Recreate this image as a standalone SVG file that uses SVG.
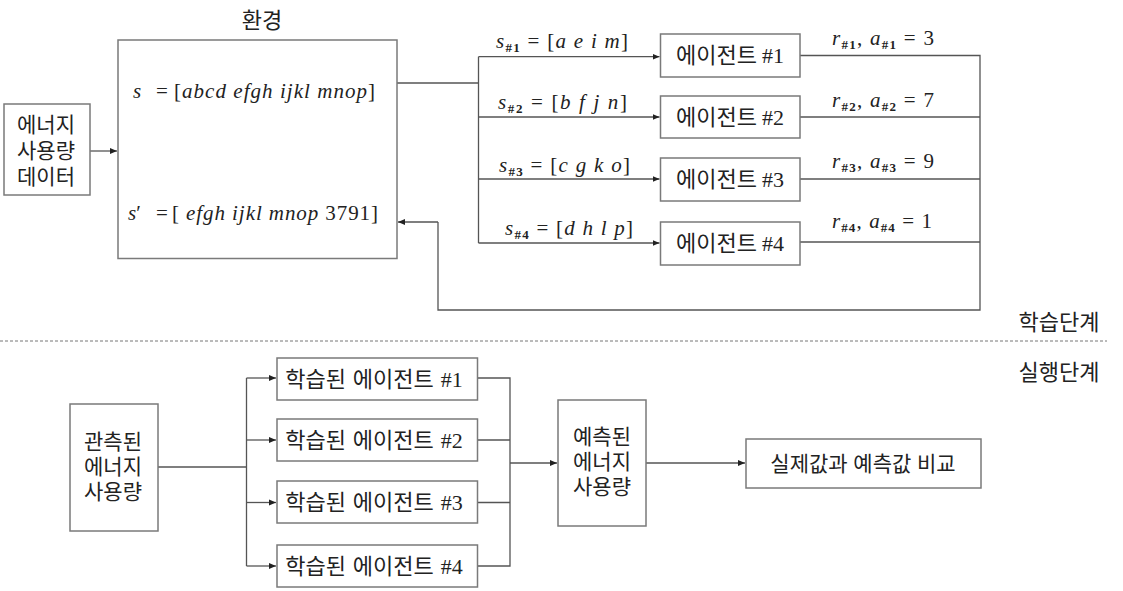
<svg xmlns="http://www.w3.org/2000/svg" width="1123" height="591" viewBox="0 0 1123 591">
<defs>
<marker id="ah" markerUnits="userSpaceOnUse" markerWidth="8" markerHeight="8" refX="7" refY="3.5" orient="auto">
<path d="M0,0.5 L7,3.5 L0,6.5 z" fill="#222"/>
</marker>
<style>
.box{fill:#fff;stroke:#7a7a7a;stroke-width:1.5}
.ln{fill:none;stroke:#555;stroke-width:1.3}
.ar{fill:none;stroke:#555;stroke-width:1.3;marker-end:url(#ah)}
.kr{font-family:"Noto Sans CJK KR","Noto Sans",sans-serif;font-size:22px;fill:#222}
.kr3{font-family:"Noto Sans CJK KR","Noto Sans",sans-serif;font-size:21px;fill:#222;text-anchor:middle}
.c{text-anchor:middle}
.num{font-family:"Liberation Serif",serif}
.m{font-family:"Liberation Serif",serif;font-size:21px;fill:#222}
.i{font-style:italic}
.sub{font-size:13px;font-weight:bold;font-style:normal}
</style>
</defs>
<rect width="1123" height="591" fill="#fff"/>

<g id="connectors">
<path class="ar" d="M90,151 H117"/>
<path class="ln" d="M397,83 H478.5"/>
<path class="ln" d="M478.5,56.7 V243"/>
<path class="ar" d="M478.5,56.7 H659.5"/>
<path class="ar" d="M478.5,117 H659.5"/>
<path class="ar" d="M478.5,179 H659.5"/>
<path class="ar" d="M478.5,243 H659.5"/>
<path class="ln" d="M800,55.5 H980 V310 H438 V222"/>
<path class="ar" d="M438,222 H398"/>
<path class="ln" d="M800,117 H980"/>
<path class="ln" d="M800,179 H980"/>
<path class="ln" d="M800,242 H980"/>
<path class="ln" d="M158,467 H246.5"/>
<path class="ln" d="M246.5,378 V566"/>
<path class="ar" d="M246.5,378 H276"/>
<path class="ar" d="M246.5,440 H276"/>
<path class="ar" d="M246.5,502.5 H276"/>
<path class="ar" d="M246.5,566 H276"/>
<path class="ln" d="M477.5,378 H510 V566 H477.5"/>
<path class="ln" d="M477.5,440 H510"/>
<path class="ln" d="M477.5,502.5 H510"/>
<path class="ar" d="M510,463 H557"/>
<path class="ar" d="M646,463 H745"/>
<path d="M130,152 H384" fill="none" stroke="#333" stroke-width="1.3" stroke-dasharray="4,2"/>
<path d="M0,341 H1107" fill="none" stroke="#777" stroke-width="1" stroke-dasharray="3,2"/>
</g>

<g id="energy-data">
<rect class="box" x="4" y="104" width="86" height="91"/>
<text class="kr3"><tspan x="46" y="132">에너지</tspan><tspan x="46" y="158">사용량</tspan><tspan x="46" y="184">데이터</tspan></text>
</g>

<g id="environment">
<text class="kr c" x="262" y="28">환경</text>
<rect class="box" x="118" y="40" width="279" height="218.5"/>
<text class="m i" x="133" y="98">s</text>
<text class="m" x="156" y="98">=</text>
<text class="m" x="174" y="98" textLength="201" lengthAdjust="spacing">[<tspan class="i">abcd efgh ijkl mnop</tspan>]</text>
<text class="m" x="128" y="220"><tspan class="i">s</tspan>′</text>
<text class="m" x="156" y="220">=</text>
<text class="m" x="172" y="220" textLength="206" lengthAdjust="spacing">[ <tspan class="i">efgh ijkl mnop</tspan> 3791]</text>
</g>

<g id="state-labels">
<text class="m" textLength="132" lengthAdjust="spacing"><tspan class="i" x="496" y="48">s</tspan><tspan class="sub" dy="4">#1</tspan><tspan dy="-4"> = [</tspan><tspan class="i">a e i m</tspan>]</text>
<text class="m" textLength="129" lengthAdjust="spacing"><tspan class="i" x="498" y="109">s</tspan><tspan class="sub" dy="4">#2</tspan><tspan dy="-4"> = [</tspan><tspan class="i">b f j n</tspan>]</text>
<text class="m" textLength="131" lengthAdjust="spacing"><tspan class="i" x="499" y="171.5">s</tspan><tspan class="sub" dy="4">#3</tspan><tspan dy="-4"> = [</tspan><tspan class="i">c g k o</tspan>]</text>
<text class="m" textLength="128" lengthAdjust="spacing"><tspan class="i" x="505" y="235">s</tspan><tspan class="sub" dy="4">#4</tspan><tspan dy="-4"> = [</tspan><tspan class="i">d h l p</tspan>]</text>
</g>

<g id="agent1"><rect class="box" x="660.5" y="34" width="139.5" height="43"/><text class="kr c" x="730" y="63">에이전트 <tspan class="num">#1</tspan></text></g>
<g id="agent2"><rect class="box" x="660.5" y="96" width="139.5" height="42"/><text class="kr c" x="730" y="124.5">에이전트 <tspan class="num">#2</tspan></text></g>
<g id="agent3"><rect class="box" x="660.5" y="158" width="139.5" height="43"/><text class="kr c" x="730" y="187">에이전트 <tspan class="num">#3</tspan></text></g>
<g id="agent4"><rect class="box" x="660.5" y="222" width="139.5" height="43"/><text class="kr c" x="730" y="251">에이전트 <tspan class="num">#4</tspan></text></g>

<g id="reward-labels">
<text class="m" textLength="102" lengthAdjust="spacing"><tspan class="i" x="832" y="45">r</tspan><tspan class="sub" dy="4">#1</tspan><tspan dy="-4">, </tspan><tspan class="i">a</tspan><tspan class="sub" dy="4">#1</tspan><tspan dy="-4"> = 3</tspan></text>
<text class="m" textLength="102" lengthAdjust="spacing"><tspan class="i" x="832" y="107">r</tspan><tspan class="sub" dy="4">#2</tspan><tspan dy="-4">, </tspan><tspan class="i">a</tspan><tspan class="sub" dy="4">#2</tspan><tspan dy="-4"> = 7</tspan></text>
<text class="m" textLength="102" lengthAdjust="spacing"><tspan class="i" x="832" y="168">r</tspan><tspan class="sub" dy="4">#3</tspan><tspan dy="-4">, </tspan><tspan class="i">a</tspan><tspan class="sub" dy="4">#3</tspan><tspan dy="-4"> = 9</tspan></text>
<text class="m" textLength="100" lengthAdjust="spacing"><tspan class="i" x="832" y="228">r</tspan><tspan class="sub" dy="4">#4</tspan><tspan dy="-4">, </tspan><tspan class="i">a</tspan><tspan class="sub" dy="4">#4</tspan><tspan dy="-4"> = 1</tspan></text>
</g>

<g id="phase-labels">
<text class="kr c" x="1059" y="330">학습단계</text>
<text class="kr c" x="1059" y="380">실행단계</text>
</g>

<g id="observed">
<rect class="box" x="70" y="404" width="88" height="127"/>
<text class="kr3"><tspan x="113" y="449">관측된</tspan><tspan x="113" y="474">에너지</tspan><tspan x="113" y="499">사용량</tspan></text>
</g>

<g id="trained1"><rect class="box" x="277" y="358" width="200.5" height="42"/><text class="kr c" x="374" y="387" word-spacing="2">학습된 에이전트 <tspan class="num">#1</tspan></text></g>
<g id="trained2"><rect class="box" x="277" y="419" width="200.5" height="42"/><text class="kr c" x="374" y="448" word-spacing="2">학습된 에이전트 <tspan class="num">#2</tspan></text></g>
<g id="trained3"><rect class="box" x="277" y="481" width="200.5" height="42"/><text class="kr c" x="374" y="510" word-spacing="2">학습된 에이전트 <tspan class="num">#3</tspan></text></g>
<g id="trained4"><rect class="box" x="277" y="545" width="200.5" height="42"/><text class="kr c" x="374" y="574" word-spacing="2">학습된 에이전트 <tspan class="num">#4</tspan></text></g>

<g id="predicted">
<rect class="box" x="558" y="400" width="88" height="126"/>
<text class="kr3"><tspan x="602" y="444">예측된</tspan><tspan x="602" y="469">에너지</tspan><tspan x="602" y="494">사용량</tspan></text>
</g>

<g id="compare">
<rect class="box" x="746" y="439" width="235" height="49"/>
<text class="kr c" x="863" y="471" style="font-size:21px" word-spacing="1">실제값과 예측값 비교</text>
</g>
</svg>
